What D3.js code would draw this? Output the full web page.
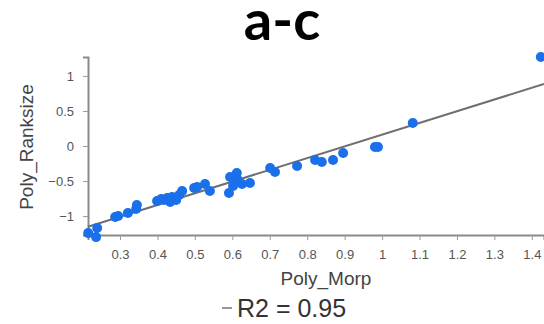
<!DOCTYPE html>
<html>
<head>
<meta charset="utf-8">
<script src="https://cdn.jsdelivr.net/npm/d3@7"></script>
<style>
  body { margin: 0; background: #fff; }
  svg { display: block; font-family: "Liberation Sans", Arial, sans-serif; }
</style>
</head>
<body>
<svg id="chart" width="544" height="324"></svg>
<script>
// values
const polyMorp = [0.215, 0.236, 0.239, 0.287, 0.295, 0.321, 0.343, 0.345, 0.399, 0.410,
  0.418, 0.426, 0.434, 0.439, 0.450, 0.458, 0.466, 0.498, 0.506, 0.527,
  0.540, 0.594, 0.612, 0.607, 0.591, 0.626, 0.647, 0.602, 0.615, 0.701,
  0.714, 0.773, 0.821, 0.839, 0.869, 0.896, 0.981, 0.989, 1.082, 1.424];
const polyRanksize = [-1.243, -1.300, -1.171, -1.014, -1.000, -0.957, -0.900, -0.843, -0.786, -0.757,
  -0.771, -0.743, -0.800, -0.729, -0.771, -0.700, -0.643, -0.600, -0.586, -0.543,
  -0.643, -0.443, -0.386, -0.514, -0.671, -0.543, -0.529, -0.571, -0.486, -0.314,
  -0.371, -0.286, -0.200, -0.229, -0.200, -0.100, -0.014, -0.014, 0.329, 1.271];
const fitCoef = [1.673, -1.511]; // slope, intercept of the trend line
const xTicks = [0.3, 0.4, 0.5, 0.6, 0.7, 0.8, 0.9, 1, 1.1, 1.2, 1.3, 1.4];
const yTicks = [-1, -0.5, 0, 0.5, 1];
const r2Label = 'R2 = 0.95';

const svg = d3.select('#chart');

const x = d3.scaleLinear().domain([0.2145, 1.4325]).range([88, 544]);
const y = d3.scaleLinear().domain([-1.27, 1.27]).range([235, 57]);

// title
svg.append('text')
  .attr('x', 282).attr('y', 40)
  .attr('text-anchor', 'middle')
  .style('font-family', 'Lato, "Open Sans", sans-serif')
  .style('font-weight', 'bold')
  .style('font-size', '56px')
  .attr('fill', '#000')
  .text('a-c');

// axes
const xAxis = svg.append('g')
  .attr('transform', `translate(0,${y.range()[0]})`)
  .call(d3.axisBottom(x).tickValues(xTicks).tickFormat(d3.format('')).tickSize(5).tickPadding(10));
const yAxis = svg.append('g')
  .attr('transform', `translate(${x.range()[0]},0)`)
  .call(d3.axisLeft(y).tickValues(yTicks).tickFormat(d3.format('')).tickSize(5).tickPadding(9));

[xAxis, yAxis].forEach(g => {
  g.select('.domain').attr('stroke', '#8a8a8a').attr('stroke-width', 2);
  g.selectAll('.tick line').attr('stroke', '#9a9a9a');
  g.selectAll('.tick text').attr('fill', '#555').style('font-size', '13px');
});

// trend line
const xd = x.domain();
svg.append('line')
  .attr('x1', x(xd[0])).attr('y1', y(fitCoef[0] * xd[0] + fitCoef[1]))
  .attr('x2', x(xd[1])).attr('y2', y(fitCoef[0] * xd[1] + fitCoef[1]))
  .attr('stroke', '#6f6f6f')
  .attr('stroke-width', 2);

// points
svg.append('g').selectAll('circle')
  .data(polyMorp.map((d, i) => [d, polyRanksize[i]]))
  .enter()
  .append('circle')
  .attr('cx', d => x(d[0]))
  .attr('cy', d => y(d[1]))
  .attr('r', 5)
  .attr('fill', '#1a6fea');

// axis titles
svg.append('text')
  .attr('x', 326).attr('y', 285)
  .attr('text-anchor', 'middle')
  .style('font-size', '19px')
  .attr('fill', '#444')
  .text('Poly_Morp');

svg.append('text')
  .attr('transform', 'translate(33,147) rotate(-90)')
  .attr('text-anchor', 'middle')
  .style('font-size', '19px')
  .attr('fill', '#444')
  .text('Poly_Ranksize');

// legend
svg.append('line')
  .attr('x1', 222).attr('x2', 232)
  .attr('y1', 308).attr('y2', 308)
  .attr('stroke', '#999')
  .attr('stroke-width', 2);
svg.append('text')
  .attr('x', 237).attr('y', 317)
  .style('font-size', '25px')
  .attr('fill', '#333')
  .text(r2Label);
</script>
</body>
</html>
